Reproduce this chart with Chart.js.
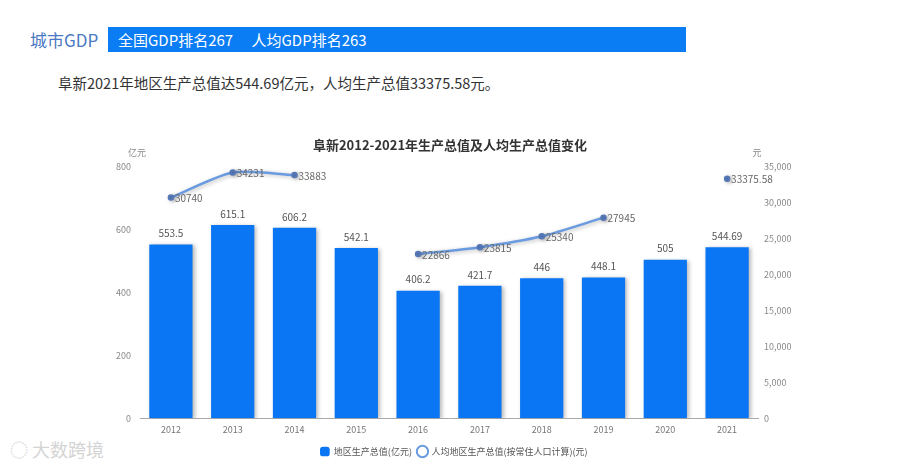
<!DOCTYPE html>
<html>
<head>
<meta charset="utf-8">
<script src="https://cdn.jsdelivr.net/npm/chart.js@4"></script>
<style>
    body { margin: 0; background: #fff; width: 900px; height: 466px; position: relative; overflow: hidden; font-family: 'Noto Sans CJK SC', sans-serif; }
    .tag { position: absolute; left: 30px; top: 27px; height: 25px; line-height: 25px; font-size: 17px; color: #4a78c2; }
    .bar { position: absolute; left: 108px; top: 27px; width: 578px; height: 25px; line-height: 25px; background: #0a7cf4; color: #fff; font-size: 15px; padding-left: 10px; box-sizing: border-box; }
    .sub { position: absolute; left: 58px; top: 72px; font-size: 14.5px; color: #333; }
    .mark { position: absolute; left: 10px; top: 436px; font-size: 18px; color: #d4d4d4; }
    #box { position: absolute; left: 0; top: 128px; width: 900px; height: 338px; }
</style>
</head>
<body>
<div class="tag">城市GDP</div>
<div class="bar">全国GDP排名267　 人均GDP排名263</div>
<div class="sub">阜新2021年地区生产总值达544.69亿元，人均生产总值33375.58元。</div>
<div class="mark">◌ 大数跨境</div>
<div id="box"><canvas id="chartCanvas"></canvas></div>
<script>
const years = ['2012', '2013', '2014', '2015', '2016', '2017', '2018', '2019', '2020', '2021'];
const gdp = [553.5, 615.1, 606.2, 542.1, 406.2, 421.7, 446, 448.1, 505, 544.69];
const perCapita = [30740, 34231, 33883, null, 22866, 23815, 25340, 27945, null, 33375.58];
const leftTicks = [0, 200, 400, 600, 800];
const rightTicks = [0, 5000, 10000, 15000, 20000, 25000, 30000, 35000];

const font = "'Noto Sans CJK SC', 'Open Sans', sans-serif";

// shadow under bars and line, value labels, axis unit labels, title
const extras = {
    id: 'extras',
    beforeDatasetDraw(chart, args) {
        const ctx = chart.ctx;
        ctx.save();
        ctx.shadowColor = 'rgba(0,0,0,0.28)';
        ctx.shadowBlur = 4;
        ctx.shadowOffsetX = 2;
        ctx.shadowOffsetY = 1;
    },
    afterDatasetDraw(chart) {
        chart.ctx.restore();
    },
    afterDraw(chart) {
        const ctx = chart.ctx;
        ctx.save();
        ctx.fillStyle = '#333';
        ctx.font = 'bold 13px ' + font;
        ctx.textAlign = 'center';
        ctx.textBaseline = 'middle';
        ctx.fillText('阜新2012-2021年生产总值及人均生产总值变化', 450, 17);

        ctx.font = '9px ' + font;
        ctx.fillStyle = '#888';
        ctx.fillText('亿元', 137, 25);
        ctx.fillText('元', 757, 25);

        ctx.font = '10px ' + font;
        ctx.fillStyle = '#555';
        ctx.textBaseline = 'bottom';
        chart.getDatasetMeta(1).data.forEach((bar, i) => {
            ctx.fillText(String(gdp[i]), bar.x, bar.y - 6);
        });
        ctx.textAlign = 'left';
        ctx.textBaseline = 'middle';
        ctx.fillStyle = '#666';
        chart.getDatasetMeta(0).data.forEach((pt, i) => {
            if (perCapita[i] == null) return;
            ctx.fillText(String(perCapita[i]), pt.x + 4, pt.y + 1);
        });
        ctx.restore();
    },
};

const cha = document.getElementById('chartCanvas').getContext('2d');
new Chart(cha, {
    type: 'bar',
    data: {
        labels: years,
        datasets: [
            {
                type: 'line',
                label: '人均地区生产总值(按常住人口计算)(元)',
                data: perCapita,
                yAxisID: 'y1',
                borderColor: '#6a9be0',
                backgroundColor: '#fff',
                borderWidth: 2.5,
                pointRadius: 2,
                pointBackgroundColor: '#5577b5',
                pointBorderColor: '#5577b5',
                tension: 0.25,
                spanGaps: false,
                order: 0,
            },
            {
                label: '地区生产总值(亿元)',
                data: gdp,
                yAxisID: 'y',
                backgroundColor: '#0a76f4',
                categoryPercentage: 1,
                barPercentage: 0.7,
                order: 1,
            },
        ],
    },
    options: {
        responsive: true,
        maintainAspectRatio: false,
        animation: false,
        layout: { padding: { top: 39, left: 100, right: 92, bottom: 0 } },
        scales: {
            x: {
                grid: { display: false, drawTicks: false },
                border: { color: '#aaa', width: 1 },
                ticks: { color: '#777', font: { size: 9, family: font }, padding: 6 },
            },
            y: {
                position: 'left',
                min: 0,
                max: 800,
                afterBuildTicks: (s) => { s.ticks = leftTicks.map(v => ({ value: v })); },
                afterFit: (s) => { s.width = 40; },
                grid: { display: false, drawTicks: false },
                border: { display: false },
                ticks: { color: '#888', font: { size: 9, family: font }, padding: 9 },
            },
            y1: {
                position: 'right',
                min: 0,
                max: 35000,
                afterBuildTicks: (s) => { s.ticks = rightTicks.map(v => ({ value: v })); },
                afterFit: (s) => { s.width = 50; },
                grid: { display: false, drawTicks: false },
                border: { display: false },
                ticks: {
                    color: '#888',
                    font: { size: 9, family: font },
                    padding: 6,
                    callback: (v) => v.toLocaleString('en-US'),
                },
            },
        },
        plugins: {
            legend: {
                position: 'bottom',
                labels: {
                    color: '#555',
                    font: { size: 9, family: font },
                    usePointStyle: true,
                    boxWidth: 12,
                    boxHeight: 8,
                    padding: 6,
                    generateLabels: (chart) => [
                        { text: '地区生产总值(亿元)', fillStyle: '#0a76f4', strokeStyle: '#0a76f4', pointStyle: 'rectRounded', lineWidth: 0, datasetIndex: 1, fontColor: '#555' },
                        { text: '人均地区生产总值(按常住人口计算)(元)', fillStyle: '#fff', strokeStyle: '#6a9be0', pointStyle: 'circle', lineWidth: 2, datasetIndex: 0, fontColor: '#555' },
                    ],
                },
            },
            tooltip: { enabled: false },
        },
    },
    plugins: [extras],
});
</script>
</body>
</html>
